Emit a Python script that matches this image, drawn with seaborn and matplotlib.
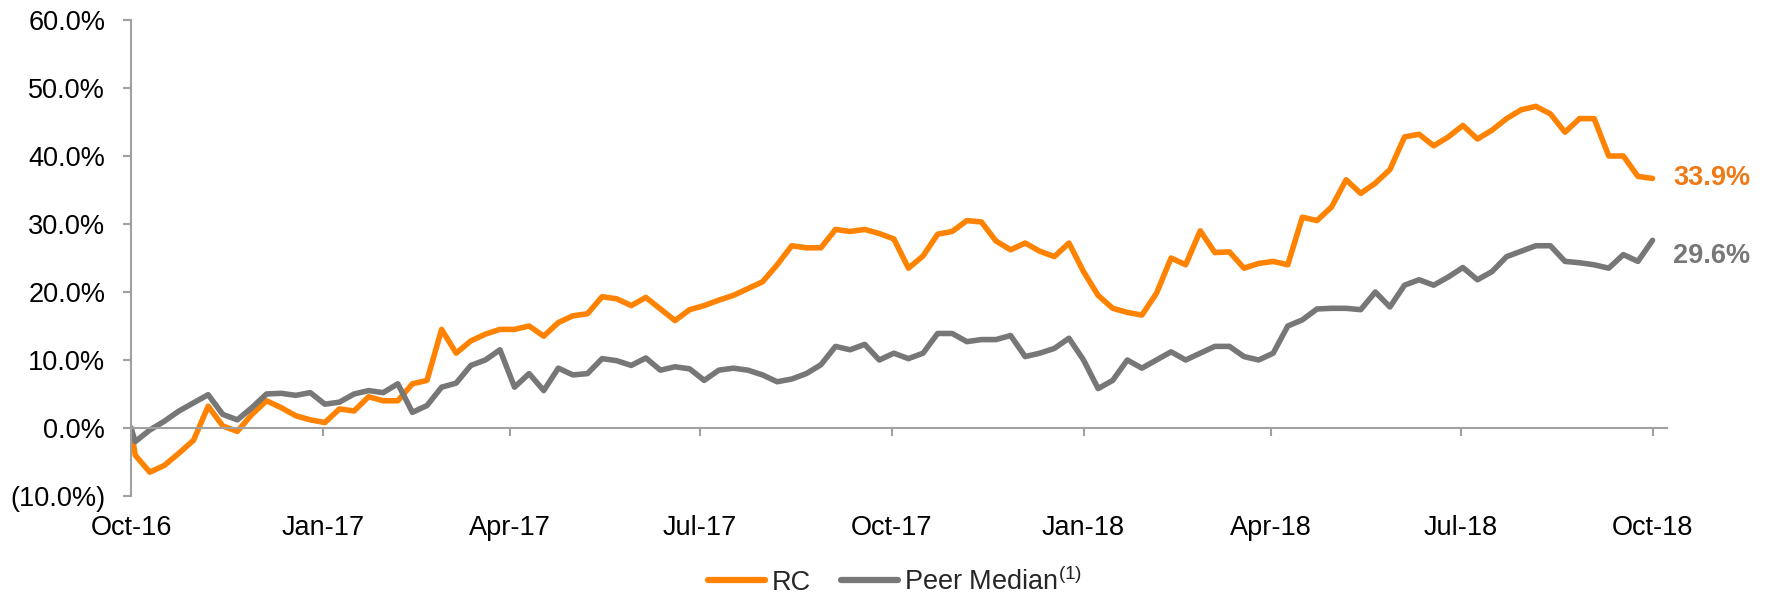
"""
Total return: RC vs. peer median, Oct-16 to Oct-18.
Weekly values read off the reference chart.
"""

import pandas as pd
import matplotlib
matplotlib.use("Agg")
import matplotlib.pyplot as plt
from matplotlib.lines import Line2D
import seaborn as sns

# --------------------------------------------------------------------------- #
# Data (percent, weekly)
# --------------------------------------------------------------------------- #
RC = [0.0,
      -4.0, -6.5, -5.5, -3.7, -1.8, 3.2, 0.3, -0.5, 2.0, 4.0,
      3.0, 1.8, 1.2, 0.8, 2.8, 2.5, 4.6, 4.0, 4.0, 6.5,
      7.0, 14.5, 11.0, 12.8, 13.8, 14.5, 14.5, 15.0, 13.5, 15.5,
      16.5, 16.8, 19.3, 19.0, 18.0, 19.2, 17.5, 15.8, 17.4, 18.0,
      18.8, 19.5, 20.5, 21.5, 24.0, 26.8, 26.5, 26.5, 29.2, 28.9,
      29.2, 28.6, 27.8, 23.5, 25.3, 28.5, 28.9, 30.5, 30.3, 27.5,
      26.2, 27.2, 26.0, 25.2, 27.2, 23.0, 19.5, 17.6, 17.0, 16.6,
      19.8, 25.0, 24.0, 29.0, 25.8, 25.9, 23.5, 24.2, 24.5, 24.0,
      31.0, 30.5, 32.5, 36.5, 34.5, 36.0, 38.0, 42.8, 43.2, 41.5,
      42.8, 44.5, 42.5, 43.8, 45.5, 46.8, 47.3, 46.2, 43.5, 45.5,
      45.5, 40.0, 40.0, 37.0, 36.7]

PEER = [0.0,
        -2.0, -0.3, 1.0, 2.5, 3.7, 4.9, 2.0, 1.2, 3.0, 5.0,
        5.1, 4.8, 5.2, 3.5, 3.8, 5.0, 5.5, 5.2, 6.5, 2.3,
        3.3, 6.0, 6.6, 9.2, 10.0, 11.5, 6.0, 8.0, 5.5, 8.8,
        7.8, 8.0, 10.2, 9.9, 9.2, 10.3, 8.5, 9.0, 8.7, 7.0,
        8.5, 8.8, 8.5, 7.8, 6.8, 7.2, 8.0, 9.3, 12.0, 11.5,
        12.3, 10.0, 11.0, 10.2, 11.0, 13.9, 13.9, 12.7, 13.0, 13.0,
        13.6, 10.5, 11.0, 11.7, 13.2, 10.0, 5.8, 7.0, 10.0, 8.8,
        10.0, 11.2, 10.0, 11.0, 12.0, 12.0, 10.5, 10.0, 11.0, 15.0,
        15.9, 17.5, 17.6, 17.6, 17.4, 20.0, 17.8, 21.0, 21.8, 21.0,
        22.2, 23.6, 21.8, 23.0, 25.2, 26.0, 26.8, 26.8, 24.5, 24.3,
        24.0, 23.5, 25.5, 24.5, 27.6]

DATES = ([pd.Timestamp("2016-10-01")]
         + list(pd.date_range("2016-10-03", periods=len(RC) - 1, freq="7D")))

SERIES = ["RC", "Peer Median"]
END_LABELS = ["33.9%", "29.6%"]

TICK_DATES = ["2016-10-01", "2017-01-01", "2017-04-01", "2017-07-01", "2017-10-01",
              "2018-01-01", "2018-04-01", "2018-07-01", "2018-10-01"]
TICK_LABELS = ["Oct-16", "Jan-17", "Apr-17", "Jul-17", "Oct-17",
               "Jan-18", "Apr-18", "Jul-18", "Oct-18"]
Y_TICKS = [-10, 0, 10, 20, 30, 40, 50, 60]

# --------------------------------------------------------------------------- #
# Style
# --------------------------------------------------------------------------- #
COLORS = {"RC": "#FF8200", "Peer Median": "#777777"}
LABEL_COLORS = {"RC": "#EE7A16", "Peer Median": "#777777"}
AXIS_GREY = "#a0a0a0"
FS = 19.5

sns.set_theme(style="white")
plt.rcParams["font.family"] = ["Liberation Sans", "DejaVu Sans"]
plt.rcParams["mathtext.fontset"] = "custom"
plt.rcParams["mathtext.rm"] = "Liberation Sans"


def fmt_pct(v):
    return f"({abs(v):.1f}%)" if v < 0 else f"{v:.1f}%"


df = pd.DataFrame({
    "date": DATES * 2,
    "value": RC + PEER,
    "series": ["RC"] * len(RC) + ["Peer Median"] * len(PEER),
})

fig = plt.figure(figsize=(17.66, 5.97), dpi=100)
ax = fig.add_axes([0.0742, 0.1692, 0.8698, 0.7973])

sns.lineplot(data=df, x="date", y="value", hue="series", hue_order=SERIES,
             palette=COLORS, estimator=None, linewidth=4.0, legend=False, ax=ax)
for ln in ax.get_lines():
    ln.set_solid_joinstyle("round")
    ln.set_solid_capstyle("round")

ax.set_xlim(pd.Timestamp("2016-10-01"), pd.Timestamp("2018-10-08"))
ax.set_ylim(-10, 60)
ax.set_xlabel("")
ax.set_ylabel("")

# axis crosses at 0%, labels stay at the bottom
for side in ("top", "right"):
    ax.spines[side].set_visible(False)
ax.spines["bottom"].set_position(("data", 0))
for side in ("left", "bottom"):
    ax.spines[side].set_color(AXIS_GREY)
    ax.spines[side].set_linewidth(1.5)

ax.set_yticks(Y_TICKS)
ax.set_yticklabels([fmt_pct(v) for v in Y_TICKS])
ax.set_xticks(pd.to_datetime(TICK_DATES))
ax.tick_params(axis="both", direction="out", length=5.5, width=1.5,
               color=AXIS_GREY, labelsize=FS, labelcolor="black",
               left=True, bottom=True)
ax.tick_params(axis="y", pad=13)
ax.tick_params(axis="x", labelbottom=False)
for d, lab in zip(pd.to_datetime(TICK_DATES), TICK_LABELS):
    ax.text(d, -0.067, lab, transform=ax.get_xaxis_transform(),
            ha="center", va="center", fontsize=FS, color="black")

# end-of-line value labels
offsets = {"RC": 0, "Peer Median": -11}
last = {"RC": RC[-1], "Peer Median": PEER[-1]}
for name, text in zip(SERIES, END_LABELS):
    ax.annotate(text, xy=(DATES[-1], last[name]), xytext=(15, offsets[name]),
                textcoords="offset points", ha="left", va="center",
                fontsize=FS, fontweight="bold", color=LABEL_COLORS[name],
                annotation_clip=False)

handles = [Line2D([], [], color=COLORS[s], lw=4.5, solid_capstyle="round") for s in SERIES]
fig.legend(handles, ["RC", r"Peer Median$^{\mathregular{(1)}}$"],
           loc="center", bbox_to_anchor=(0.507, 0.026), ncol=2, frameon=False,
           fontsize=FS, handlelength=2.1, handletextpad=0.25, columnspacing=1.1,
           borderpad=0.1)

fig.savefig("out.png", dpi=100)
plt.close(fig)
